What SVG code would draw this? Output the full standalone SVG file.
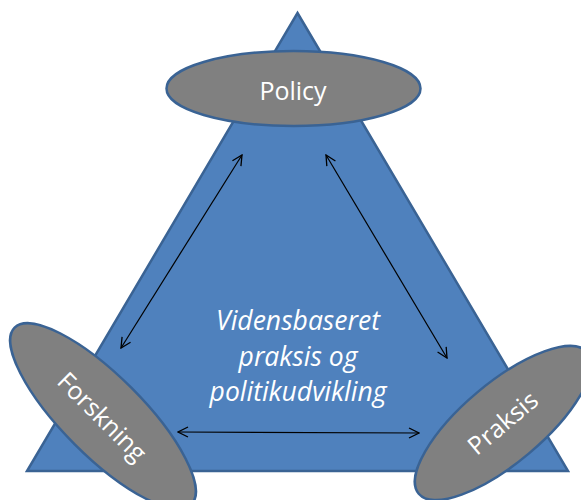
<svg xmlns="http://www.w3.org/2000/svg" width="581" height="500" viewBox="0 0 581 500">
<defs>
<style>
.tri{fill:#4F81BD;stroke:#3A6394;stroke-width:2.5}
.ell{fill:#808080;stroke:#3A6394;stroke-width:2.5}
.lbl{font-family:"Open Sans","Liberation Sans",sans-serif;font-size:25px;fill:#FFFFFF;text-anchor:middle;dominant-baseline:central}
.mid{font-family:"Open Sans","Liberation Sans",sans-serif;font-size:26.5px;font-style:italic;fill:#FFFFFF;text-anchor:middle}
.arr{stroke:#000000;stroke-width:1.2;fill:none;marker-start:url(#ah);marker-end:url(#ah)}
</style>
<marker id="ah" viewBox="0 0 12 12" refX="11" refY="6" markerWidth="12" markerHeight="12" markerUnits="userSpaceOnUse" orient="auto-start-reverse">
<path d="M1,1 L11,6 L1,11" fill="none" stroke="#000000" stroke-width="1.3"/>
</marker>
</defs>
<g id="triangle">
<polygon class="tri" points="297.5,13 568,471 27,471"/>
</g>
<g id="connectors">
<line class="arr" x1="242" y1="155" x2="121" y2="348"/>
<line class="arr" x1="326" y1="155" x2="447" y2="358"/>
<line class="arr" x1="178" y1="432" x2="419" y2="433"/>
</g>
<g id="policy">
<ellipse class="ell" cx="293.5" cy="88.5" rx="127" ry="37.5"/>
<text class="lbl" x="293" y="90">Policy</text>
</g>
<g id="forskning">
<ellipse class="ell" cx="0" cy="0" rx="125" ry="40" transform="translate(103,416) rotate(45)"/>
<text class="lbl" x="0" y="0" transform="translate(103,416) rotate(45)">Forskning</text>
</g>
<g id="praksis">
<ellipse class="ell" cx="0" cy="0" rx="110" ry="40" transform="translate(503,423) rotate(-40)"/>
<text class="lbl" x="0" y="0" transform="translate(502,422) rotate(-40)">Praksis</text>
</g>
<g id="center">
<text class="mid" x="298" y="330">Vidensbaseret</text>
<text class="mid" x="298" y="366">praksis og</text>
<text class="mid" x="298" y="401">politikudvikling</text>
</g>
</svg>
